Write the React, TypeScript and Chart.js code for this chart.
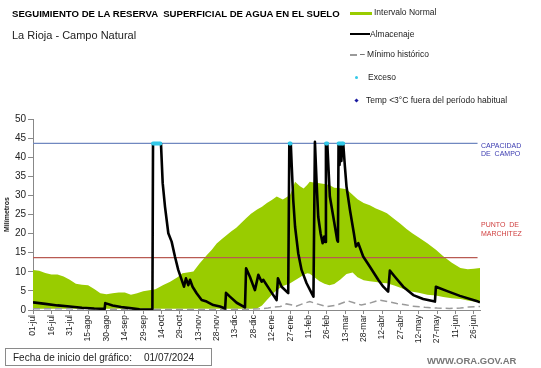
import React, { useEffect, useRef } from 'react';
import { Chart, registerables } from 'chart.js';
Chart.register(...registerables);

const FONT = '"Liberation Sans", Arial, sans-serif';

const xTickDays = [0, 15, 30, 45, 60, 75, 90, 105, 120, 135, 150, 165, 180, 195, 210, 225, 240, 255, 270, 285, 300, 315, 330, 345, 360];
const xTickLabels = ['01-jul', '16-jul', '31-jul', '15-ago', '30-ago', '14-sep', '29-sep', '14-oct', '29-oct', '13-nov', '28-nov', '13-dic', '28-dic', '12-ene', '27-ene', '11-feb', '26-feb', '13-mar', '28-mar', '12-abr', '27-abr', '12-may', '27-may', '11-jun', '26-jun'];

const bandDays = [0, 5, 10, 15, 20, 25, 30, 35, 40, 45, 50, 55, 60, 65, 70, 75, 80, 85, 90, 95, 100, 106, 112, 118, 122, 126, 131, 136, 142, 146, 150, 154, 158, 162, 166, 170, 174, 178, 183, 187, 191, 195, 199, 204, 207, 210, 214, 218, 221, 224, 226, 229, 234, 238, 242, 246, 251, 256, 261, 265, 270, 275, 280, 285, 289, 295, 300, 305, 310, 315, 322, 329, 335, 342, 349, 355, 360, 365];
const bandUpper = [10.5, 10.3, 9.7, 9.3, 9.3, 8.8, 7.9, 6.9, 6.6, 6.5, 5.5, 4.4, 4.1, 4.4, 4.6, 4.6, 4.0, 4.4, 4.9, 5.2, 5.4, 6.5, 7.4, 8.6, 9.6, 9.8, 10.1, 12.2, 14.4, 15.8, 17.4, 18.5, 19.6, 20.6, 21.5, 22.8, 24.0, 25.2, 26.3, 27.0, 28.0, 28.8, 29.7, 28.9, 29.5, 30.2, 33.6, 32.4, 31.8, 32.8, 33.6, 33.4, 33.2, 33.0, 32.7, 32.0, 31.9, 31.6, 30.2, 29.0, 28.0, 27.4, 26.6, 25.9, 25.3, 23.8, 22.6, 21.2, 20.0, 19.0, 17.5, 15.8, 14.1, 12.4, 11.0, 10.7, 10.8, 11.0];
const bandLower = [0.3, 0.3, 0.3, 0.3, 0.3, 0.3, 0.3, 0.3, 0.3, 0.3, 0.3, 0.3, 0.3, 0.3, 0.3, 0.3, 0.3, 0.3, 0.3, 0.3, 0.3, 0.3, 0.3, 0.3, 0.3, 0.3, 0.3, 0.3, 0.3, 0.3, 0.3, 0.3, 0.3, 0.3, 0.3, 0.3, 0.3, 0.3, 0.4, 1.2, 2.6, 4.0, 5.2, 6.3, 6.6, 7.0, 7.8, 8.6, 9.2, 9.6, 9.5, 8.8, 7.5, 6.9, 6.5, 6.8, 8.0, 9.4, 9.8, 8.6, 7.8, 7.5, 7.3, 7.1, 7.0, 6.4, 5.8, 5.2, 4.8, 4.5, 4.0, 3.8, 3.4, 3.1, 2.9, 2.5, 2.2, 2.0];

const minDays = [0, 30, 60, 90, 120, 150, 175, 185, 192, 197, 202, 207, 212, 215, 220, 226, 232, 240, 248, 257, 262, 268, 275, 283, 290, 297, 304, 310, 320, 330, 340, 349, 356, 365];
const minValues = [0.3, 0.3, 0.2, 0.1, 0.1, 0.1, 0.2, 0.3, 0.5, 0.8, 0.9, 1.6, 1.3, 1.0, 1.6, 2.2, 1.6, 0.9, 1.3, 2.4, 1.9, 1.3, 1.8, 2.6, 2.2, 1.7, 1.4, 1.0, 0.7, 0.5, 0.4, 0.5, 0.8, 0.9];

const storeDays = [0, 10, 20, 30, 40, 50, 58.5, 59, 65, 72, 79, 87, 97.5, 98, 104.5, 105.9, 107.8, 110.5, 113.2, 115.9, 118.6, 121.4, 123.3, 124.9, 126.8, 128.2, 130.3, 133.6, 137.7, 141.8, 147.2, 152.7, 156.9, 157.6, 160.8, 166.3, 173.1, 174, 177.1, 181.2, 184, 186.7, 188, 193.5, 198.9, 200, 203, 208.4, 209.3, 210.5, 211.3, 212.5, 214, 216.6, 219.3, 223.4, 227.5, 229, 230.2, 231.6, 232.9, 234.8, 236.5, 237.8, 238.5, 239.2, 240.3, 242.4, 245.2, 248.4, 249, 249.5, 250.3, 251, 251.8, 252.5, 253.3, 254.7, 256, 258.8, 262, 263.7, 265.6, 269.6, 275.1, 281.9, 286, 290, 291.4, 295.5, 302.3, 310.5, 318.6, 328.2, 329, 337.7, 348.6, 363.5, 365];
const storeValues = [2.0, 1.6, 1.2, 0.9, 0.6, 0.4, 0.3, 1.8, 1.2, 0.8, 0.5, 0.2, 0.1, 43.6, 43.6, 33.2, 27.0, 20.1, 17.9, 14.0, 10.5, 7.9, 6.1, 8.3, 6.5, 7.9, 6.1, 4.4, 2.6, 2.2, 1.3, 0.9, 0.4, 4.5, 3.5, 1.9, 0.7, 10.9, 8.7, 5.2, 9.2, 7.4, 7.9, 5.2, 2.6, 8.3, 6.1, 4.4, 43.6, 43.6, 37.5, 28.8, 21.8, 14.8, 10.5, 7.0, 4.4, 3.5, 44.0, 33.2, 24.4, 20.1, 17.5, 19.2, 17.8, 43.6, 43.6, 29.7, 24.4, 18.3, 17.9, 43.6, 38.0, 43.6, 39.0, 43.6, 43.6, 37.5, 32.3, 26.2, 20.1, 16.6, 17.5, 14.0, 11.3, 7.9, 6.1, 4.8, 10.3, 8.7, 6.1, 3.9, 2.9, 2.2, 6.1, 5.0, 3.7, 2.2, 2.0];

const excessDays = [98, 99, 100, 101, 102, 103, 104, 209.5, 210.3, 239.3, 240.2, 249.5, 250.5, 251.5, 252.5, 253.3];
const excessValues = [43.6, 43.6, 43.6, 43.6, 43.6, 43.6, 43.6, 43.6, 43.6, 43.6, 43.6, 43.6, 43.6, 43.6, 43.6, 43.6];

const refLineDays = [0, 363];
const capacityValues = [43.6, 43.6];
const wiltingValues = [13.7, 13.7];

const pts = (xs: number[], ys: number[]) => xs.map((x, i) => ({ x, y: ys[i] }));

export default function App() {
  const ref = useRef<HTMLCanvasElement>(null);
  useEffect(() => {
    if (!ref.current) return;
    const chart = new Chart(ref.current, {
      type: 'line',
      data: {
        datasets: [
          { label: 'lower', data: pts(bandDays, bandLower), borderWidth: 0, pointRadius: 0, fill: false, order: 6, borderColor: 'rgba(0,0,0,0)' },
          { label: 'Intervalo Normal', data: pts(bandDays, bandUpper), borderWidth: 0, pointRadius: 0, fill: { target: 0 }, backgroundColor: '#99cc00', borderColor: 'rgba(0,0,0,0)', order: 5 },
          { label: 'Mínimo histórico', data: pts(minDays, minValues), borderColor: '#9a9a9a', borderWidth: 1.5, borderDash: [7, 4], pointRadius: 0, fill: false, order: 4 },
          { label: 'cap', data: pts(refLineDays, capacityValues), borderColor: '#7088c0', borderWidth: 1.2, pointRadius: 0, fill: false, order: 3 },
          { label: 'pm', data: pts(refLineDays, wiltingValues), borderColor: '#b85a52', borderWidth: 1.2, pointRadius: 0, fill: false, order: 3 },
          { label: 'Almacenaje', data: pts(storeDays, storeValues), borderColor: '#000000', borderWidth: 2.6, borderJoinStyle: 'round', pointRadius: 0, fill: false, order: 1 },
          { label: 'Exceso', data: pts(excessDays, excessValues), showLine: false, pointRadius: 2, pointBorderWidth: 0, pointBackgroundColor: '#33c8e8', backgroundColor: '#33c8e8', borderColor: '#33c8e8', order: 0 },
        ],
      },
      options: {
        responsive: false,
        maintainAspectRatio: false,
        animation: false,
        devicePixelRatio: 1,
        layout: { padding: { left: 0, top: 119, right: 61, bottom: 0 } },
        plugins: { legend: { display: false }, tooltip: { enabled: false }, title: { display: false } },
        scales: {
          x: {
            type: 'linear',
            min: 0,
            max: 365,
            afterFit: (s: any) => { s.height = 58; },
            afterBuildTicks: (s: any) => { s.ticks = xTickDays.map((v) => ({ value: v })); },
            ticks: {
              autoSkip: false,
              maxRotation: 90,
              minRotation: 90,
              padding: 1,
              color: '#222',
              font: { family: FONT, size: 8.5 },
              callback: (v: any) => { const i = xTickDays.indexOf(Number(v)); return i >= 0 ? xTickLabels[i] : ''; },
            },
            grid: { drawOnChartArea: false, tickLength: 4, color: '#888' },
            border: { color: '#888' },
          },
          y: {
            min: 0,
            max: 50,
            afterFit: (s: any) => { s.width = 33; },
            ticks: { stepSize: 5, padding: 2, color: '#222', font: { family: FONT, size: 10 } },
            grid: { drawOnChartArea: false, tickLength: 5, color: '#888' },
            border: { color: '#888' },
            title: { display: true, text: 'Milímetros', color: '#222', font: { family: FONT, size: 7, weight: 'bold' }, padding: { top: 3, bottom: 0 } },
          },
        },
      } as any,
    });
    return () => chart.destroy();
  }, []);

  const txt: React.CSSProperties = { position: 'absolute', fontFamily: FONT, lineHeight: 1, whiteSpace: 'pre', color: '#222' };
  return (
    <div style={{ position: 'fixed', left: 0, top: 0, width: 541, height: 368, background: '#fff', overflow: 'hidden' }}>
      <canvas ref={ref} width={541} height={368} style={{ position: 'absolute', left: 0, top: 0, width: 541, height: 368 }} />
      <div style={{ ...txt, left: 12, top: 9.4, fontSize: 9.6, fontWeight: 'bold', color: '#000' }}>SEGUIMIENTO DE LA RESERVA  SUPERFICIAL DE AGUA EN EL SUELO</div>
      <div style={{ ...txt, left: 12, top: 29.6, fontSize: 11 }}>La Rioja - Campo Natural</div>

      <div style={{ position: 'absolute', left: 350, top: 12, width: 22, height: 3, background: '#99cc00' }} />
      <div style={{ ...txt, left: 374, top: 8, fontSize: 8.5 }}>Intervalo Normal</div>
      <div style={{ position: 'absolute', left: 350, top: 33, width: 20, height: 2, background: '#000' }} />
      <div style={{ ...txt, left: 370, top: 30, fontSize: 8.5 }}>Almacenaje</div>
      <div style={{ position: 'absolute', left: 350, top: 54, width: 7, height: 1.5, background: '#9a9a9a' }} />
      <div style={{ ...txt, left: 360, top: 50, fontSize: 8.5 }}>– Mínimo histórico</div>
      <div style={{ position: 'absolute', left: 354.5, top: 75.8, width: 3, height: 3, borderRadius: 2, background: '#33c8e8' }} />
      <div style={{ ...txt, left: 368, top: 73, fontSize: 8.5 }}>Exceso</div>
      <div style={{ position: 'absolute', left: 354.5, top: 98.5, width: 3, height: 3, transform: 'rotate(45deg)', background: '#1a1aa0' }} />
      <div style={{ ...txt, left: 366, top: 96, fontSize: 8.5 }}>Temp &lt;3°C fuera del período habitual</div>

      <div style={{ ...txt, left: 481, top: 141.5, fontSize: 7, color: '#3b3bb0' }}>CAPACIDAD</div>
      <div style={{ ...txt, left: 481, top: 150.2, fontSize: 7, color: '#3b3bb0' }}>DE  CAMPO</div>
      <div style={{ ...txt, left: 481, top: 220.8, fontSize: 7, color: '#d04040' }}>PUNTO  DE</div>
      <div style={{ ...txt, left: 481, top: 229.8, fontSize: 7, color: '#d04040' }}>MARCHITEZ</div>

      <div style={{ position: 'absolute', left: 5, top: 348, width: 207, height: 18, border: '1px solid #8a8a8a', boxSizing: 'border-box' }} />
      <div style={{ ...txt, left: 13, top: 353, fontSize: 10 }}>Fecha de inicio del gráfico:</div>
      <div style={{ ...txt, left: 144, top: 353, fontSize: 10 }}>01/07/2024</div>
      <div style={{ ...txt, left: 427, top: 356, fontSize: 9.5, fontWeight: 'bold', color: '#777' }}>WWW.ORA.GOV.AR</div>
    </div>
  );
}
